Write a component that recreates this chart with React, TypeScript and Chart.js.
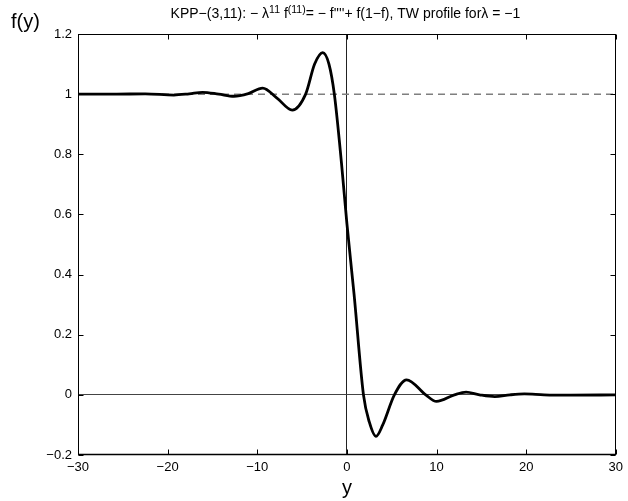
import React, { useEffect, useRef } from 'react';
import { Chart, registerables } from 'chart.js';

Chart.register(...registerables);

// Travelling-wave profile f(y)
const yPos = [-30, -26, -22.5, -19.3, -17.6, -16.1, -14.3, -12.6, -11.0, -9.4, -7.8, -6.1, -4.6, -3.6, -2.7, -2.0, -1.4, -0.6, 0, 0.8, 1.85, 2.5, 3.25, 4.0, 5.3, 6.66, 8.8, 10.0, 12.0, 13.3, 14.8, 16.5, 18.2, 19.8, 22, 25, 30];
const fVal = [1.0, 1.0, 1.001, 0.997, 1.001, 1.006, 1.0, 0.993, 1.002, 1.02, 0.987, 0.947, 1.0, 1.1, 1.138, 1.1, 1.0, 0.77, 0.57, 0.335, 0.0, -0.09, -0.138, -0.1, 0.0, 0.05, 0.0, -0.022, 0.0, 0.009, 0.0, -0.006, 0.0, 0.003, 0.0, -0.001, 0.0];

const xTickValues = [-30, -20, -10, 0, 10, 20, 30];
const yTickValues = [-0.2, 0, 0.2, 0.4, 0.6, 0.8, 1, 1.2];
const refLevel = 1;

const xAxisLabel = 'y';
const yAxisLabel = 'f(y)';
// [text, isSuperscript]
const titleParts: [string, boolean][] = [
  ['KPP\u2212(3,11): \u2212 \u03bb', false],
  ['11', true],
  [' f', false],
  ['(11)', true],
  ['= \u2212 f\'\'\'\'+ f(1\u2212f), TW profile for\u03bb = \u22121', false],
];

const FONT = '"Liberation Sans", Arial, Helvetica, sans-serif';

const fmt = (v: number) => {
  const r = Math.round(v * 10) / 10;
  return String(r).replace('-', '\u2212');
};

const framePlugin = {
  id: 'frame',
  afterDraw(chart: any) {
    const { ctx, chartArea } = chart;
    const xs = chart.scales.x;
    const ys = chart.scales.y;
    const L = Math.round(chartArea.left) + 0.5;
    const R = Math.round(chartArea.right) - 0.5;
    const T = Math.round(chartArea.top) + 0.5;
    const B = Math.round(chartArea.bottom) - 0.5;
    ctx.save();
    ctx.strokeStyle = '#000';
    ctx.lineWidth = 1;
    ctx.strokeRect(L, T, R - L, B - T);
    ctx.lineWidth = 1.7;
    ctx.beginPath();
    ctx.moveTo(L - 0.5, B);
    ctx.lineTo(R + 0.5, B);
    ctx.stroke();
    ctx.lineWidth = 1;
    const tl = 5;
    ctx.beginPath();
    xTickValues.forEach((v) => {
      const px = Math.round(xs.getPixelForValue(v)) + 0.5;
      ctx.moveTo(px, B);
      ctx.lineTo(px, B - tl);
      ctx.moveTo(px, T);
      ctx.lineTo(px, T + tl);
    });
    yTickValues.forEach((v) => {
      const py = Math.round(ys.getPixelForValue(v)) + 0.5;
      ctx.moveTo(L, py);
      ctx.lineTo(L + tl, py);
      ctx.moveTo(R, py);
      ctx.lineTo(R - tl, py);
    });
    ctx.stroke();

    // title with superscripts
    const normal = `14px ${FONT}`;
    const sup = `10.5px ${FONT}`;
    let total = 0;
    titleParts.forEach(([t, s]) => {
      ctx.font = s ? sup : normal;
      total += ctx.measureText(t).width;
    });
    let x = (chartArea.left + chartArea.right) / 2 - 1.5 - total / 2;
    const base = 18;
    ctx.fillStyle = '#000';
    ctx.textAlign = 'left';
    ctx.textBaseline = 'alphabetic';
    titleParts.forEach(([t, s]) => {
      ctx.font = s ? sup : normal;
      ctx.fillText(t, x, s ? base - 5.5 : base);
      x += ctx.measureText(t).width;
    });

    ctx.font = `20px ${FONT}`;
    ctx.fillText(yAxisLabel, 11, 28);
    ctx.textAlign = 'center';
    ctx.fillText(xAxisLabel, (chartArea.left + chartArea.right) / 2, 494);
    ctx.restore();
  },
};

export default function App() {
  const ref = useRef<HTMLCanvasElement>(null);
  useEffect(() => {
    document.body.style.margin = '0';
    const canvas = ref.current!;
    const chart = new Chart(canvas, {
      type: 'line',
      data: {
        datasets: [
          {
            data: yPos.map((x, i) => ({ x, y: fVal[i] })),
            borderColor: '#000',
            borderWidth: 2.8,
            pointRadius: 0,
            cubicInterpolationMode: 'monotone',
            fill: false,
            order: 0,
          },
          {
            data: [
              { x: xTickValues[0], y: refLevel },
              { x: xTickValues[xTickValues.length - 1], y: refLevel },
            ],
            borderColor: '#7f7f7f',
            borderWidth: 1.5,
            borderDash: [7, 5],
            pointRadius: 0,
            fill: false,
            order: 1,
          },
        ],
      } as any,
      options: {
        responsive: false,
        animation: false,
        layout: { padding: { top: 34, right: 9, left: 0, bottom: 0 } },
        plugins: {
          legend: { display: false },
          tooltip: { enabled: false },
          title: { display: false },
        },
        scales: {
          x: {
            type: 'linear',
            min: -30,
            max: 30,
            afterBuildTicks: (s: any) => {
              s.ticks = xTickValues.map((v) => ({ value: v }));
            },
            afterFit: (s: any) => {
              s.height = 46;
            },
            grid: {
              drawTicks: false,
              color: (c: any) => (c.tick && c.tick.value === 0 ? '#222' : 'rgba(0,0,0,0)'),
              lineWidth: 1,
            },
            border: { display: false },
            ticks: {
              padding: 5,
              color: '#000',
              maxRotation: 0,
              autoSkip: false,
              font: { family: FONT, size: 13 },
              callback: (v: any) => fmt(Number(v)),
            },
          },
          y: {
            type: 'linear',
            min: -0.2,
            max: 1.2,
            afterBuildTicks: (s: any) => {
              s.ticks = yTickValues.map((v) => ({ value: v }));
            },
            afterFit: (s: any) => {
              s.width = 78;
            },
            grid: {
              drawTicks: false,
              color: (c: any) => (c.tick && Math.abs(c.tick.value) < 1e-9 ? '#444' : 'rgba(0,0,0,0)'),
              lineWidth: 1,
            },
            border: { display: false },
            ticks: {
              padding: 6,
              color: '#000',
              autoSkip: false,
              font: { family: FONT, size: 13 },
              callback: (v: any) => fmt(Number(v)),
            },
          },
        },
      } as any,
      plugins: [framePlugin],
    });
    return () => chart.destroy();
  }, []);
  return <canvas ref={ref} width={628} height={501} style={{ display: 'block' }} />;
}
